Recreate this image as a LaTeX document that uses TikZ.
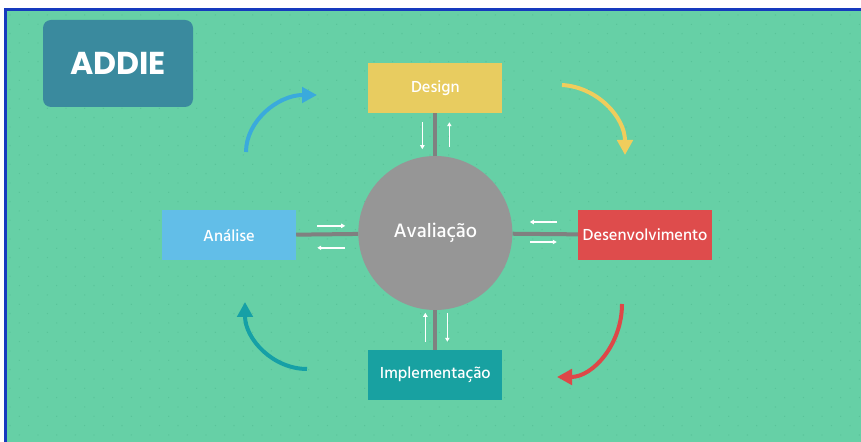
\documentclass[tikz,border=0pt]{standalone}
\usepackage{fontspec}
\usetikzlibrary{positioning,arrows.meta}
\newfontfamily\labelfont{Hind Siliguri Medium}
\newfontfamily\titlefont{Poppins}
\definecolor{bggreen}{RGB}{102,208,166}
\definecolor{bgdot}{RGB}{88,194,152}
\definecolor{frameblue}{RGB}{22,58,190}
\definecolor{titleteal}{RGB}{58,138,158}
\definecolor{designyellow}{RGB}{232,204,96}
\definecolor{analiseblue}{RGB}{98,190,232}
\definecolor{devred}{RGB}{222,76,76}
\definecolor{implteal}{RGB}{24,161,161}
\definecolor{hubgray}{RGB}{150,150,150}
\definecolor{linkgray}{RGB}{128,128,128}
\definecolor{arrowblue}{RGB}{58,170,220}
\definecolor{arrowyellow}{RGB}{240,205,92}
\definecolor{arrowred}{RGB}{222,72,72}
\definecolor{arrowteal}{RGB}{22,160,166}

\begin{document}
\begin{tikzpicture}[
    stage/.style={
        minimum width=4.02cm,
        minimum height=1.5cm,
        inner sep=0pt,
        text=white,
        font=\labelfont\fontsize{14}{17}\selectfont
    },
    hub/.style={
        circle,
        fill=hubgray,
        minimum size=4.62cm,
        inner sep=0pt,
        text=white,
        font=\labelfont\fontsize{17}{20}\selectfont
    },
    link/.style={
        draw=linkgray,
        line width=1.2mm
    },
    flow/.style={
        -{Triangle[length=1.2mm,width=1.3mm]},
        white,
        line width=0.45mm
    },
    turn/.style={
        -{Triangle[length=4.5mm,width=4.6mm]},
        line width=1.2mm
    }
]

% ---------------- Background ----------------
\useasboundingbox (0,0) rectangle (25.83,-13.26);
\fill[bggreen] (0.21,-0.33) rectangle (25.83,-13.26);
\begin{scope}
    \clip (0.21,-0.33) rectangle (25.83,-13.26);
    \foreach \i in {0,...,46}
        \foreach \j in {0,...,47}
            \fill[bgdot] ({0.3+0.56*\i+0.28*mod(\j,2)},{-0.45-0.28*\j}) circle (0.02);
\end{scope}
\draw[frameblue, line width=0.9mm] (0.165,-13.26) -- (0.165,-0.30) -- (25.83,-0.30);

% ---------------- Title ----------------
\node[
    fill=titleteal,
    rounded corners=0.24cm,
    minimum width=4.5cm,
    minimum height=2.61cm,
    text=white,
    font=\titlefont\bfseries\fontsize{27}{31}\selectfont
] (title) at (3.54,-1.905) {ADDIE};

% ---------------- Hub and stages ----------------
\node[hub] (aval) at (13.06,-6.99) {Avaliação};

\node[stage, fill=designyellow] (design) at (13.06,-2.64) {Design};
\node[stage, fill=analiseblue] (analise) at (6.87,-7.065) {Análise};
\node[stage, fill=devred] (desenv) at (19.35,-7.05) {Desenvolvimento};
\node[stage, fill=implteal] (impl) at (13.06,-11.25) {Implementação};

\draw[link] (design) -- (aval);
\draw[link] (analise) -- (aval);
\draw[link] (aval) -- (desenv);
\draw[link] (aval) -- (impl);

% ---------------- Exchange arrows ----------------
\draw[flow] ([xshift=-0.39cm,yshift=-0.27cm]design.south) -- ([xshift=-0.39cm,yshift=-1.08cm]design.south);
\draw[flow] ([xshift=0.42cm,yshift=-1.02cm]design.south) -- ([xshift=0.42cm,yshift=-0.27cm]design.south);

\draw[flow] ([xshift=0.63cm,yshift=0.29cm]analise.east) -- ([xshift=1.47cm,yshift=0.29cm]analise.east);
\draw[flow] ([xshift=1.47cm,yshift=-0.37cm]analise.east) -- ([xshift=0.63cm,yshift=-0.37cm]analise.east);

\draw[flow] ([xshift=-0.63cm,yshift=0.39cm]desenv.west) -- ([xshift=-1.44cm,yshift=0.39cm]desenv.west);
\draw[flow] ([xshift=-1.44cm,yshift=-0.21cm]desenv.west) -- ([xshift=-0.63cm,yshift=-0.21cm]desenv.west);

\draw[flow] ([xshift=-0.3cm,yshift=0.24cm]impl.north) -- ([xshift=-0.3cm,yshift=1.11cm]impl.north);
\draw[flow] ([xshift=0.36cm,yshift=1.11cm]impl.north) -- ([xshift=0.36cm,yshift=0.24cm]impl.north);

% ---------------- Cycle arrows ----------------
\coordinate (blueA) at (7.38,-4.56);
\coordinate (blueB) at (9.51,-2.85);
\coordinate (yellowA) at (16.86,-2.55);
\coordinate (yellowB) at (18.75,-4.65);
\coordinate (redA) at (18.66,-9.12);
\coordinate (redB) at (16.71,-11.31);
\coordinate (tealA) at (9.21,-11.07);
\coordinate (tealB) at (7.35,-9.06);

\draw[turn, arrowblue] (blueA) .. controls (7.38,-3.63) and (8.34,-2.85) .. (blueB);
\draw[turn, arrowyellow] (yellowA) .. controls (17.91,-2.61) and (18.75,-3.51) .. (yellowB);
\draw[turn, arrowred] (redA) .. controls (18.66,-10.32) and (17.79,-11.31) .. (redB);
\draw[turn, arrowteal] (tealA) .. controls (8.19,-11.07) and (7.35,-10.17) .. (tealB);

\end{tikzpicture}
\end{document}
